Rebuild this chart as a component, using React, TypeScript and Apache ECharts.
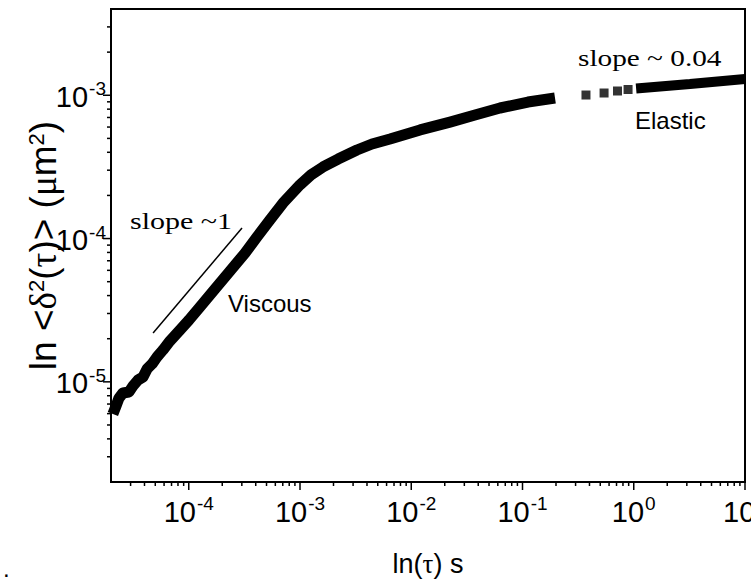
import { useEffect, useRef } from "react";
import * as echarts from "echarts";

// Lag time tau (s) and mean squared displacement (um^2), viscous branch up to ~0.2 s
const viscousTau = [
  2.08e-5, 2.22e-5, 2.36e-5, 2.56e-5, 2.9e-5, 3.15e-5, 3.5e-5, 3.88e-5, 4.22e-5, 4.68e-5,
  5.19e-5, 5.86e-5, 6.78e-5, 8.34e-5, 1.005e-4, 1.26e-4, 1.72e-4, 2.35e-4, 3.21e-4, 4.1e-4,
  5.37e-4, 7.03e-4, 1.0e-3, 1.256e-3, 1.61e-3, 2.2e-3, 3.25e-3, 4.44e-3, 6.44e-3, 1.2e-2,
  2.23e-2, 3.74e-2, 6.28e-2, 0.112, 0.196,
];
const viscousMsd = [
  5.97e-6, 6.79e-6, 7.71e-6, 8.36e-6, 8.49e-6, 9.35e-6, 1.03e-5, 1.081e-5, 1.23e-5, 1.333e-5,
  1.493e-5, 1.667e-5, 1.93e-5, 2.3e-5, 2.7e-5, 3.33e-5, 4.45e-5, 5.94e-5, 7.93e-5, 1.026e-4,
  1.349e-4, 1.77e-4, 2.37e-4, 2.78e-4, 3.16e-4, 3.59e-4, 4.15e-4, 4.57e-4, 4.95e-4, 5.73e-4,
  6.5e-4, 7.28e-4, 8.15e-4, 8.97e-4, 9.57e-4,
];

// Sparse points across the gap
const sparseTau = [0.372, 0.541, 0.714, 0.889];
const sparseMsd = [1.004e-3, 1.037e-3, 1.071e-3, 1.097e-3];

// Elastic plateau
const elasticTau = [1.05, 3.2, 10];
const elasticMsd = [1.114e-3, 1.199e-3, 1.3e-3];

// Slope ~1 guide
const guideTau = [4.78e-5, 3.01e-4];
const guideMsd = [2.19e-5, 1.185e-4];

// Axis ticks (in seconds / um^2)
const xMajorTicks = [1e-4, 1e-3, 1e-2, 1e-1, 1, 10];
const xMinorTicks = [
  3e-5, 4e-5, 5e-5, 6e-5, 7e-5, 8e-5, 9e-5,
  2e-4, 3e-4, 4e-4, 5e-4, 6e-4, 7e-4, 8e-4, 9e-4,
  2e-3, 3e-3, 4e-3, 5e-3, 6e-3, 7e-3, 8e-3, 9e-3,
  2e-2, 3e-2, 4e-2, 5e-2, 6e-2, 7e-2, 8e-2, 9e-2,
  0.2, 0.3, 0.4, 0.5, 0.6, 0.7, 0.8, 0.9,
  2, 3, 4, 5, 6, 7, 8, 9,
];
const yMajorTicks = [1e-5, 1e-4, 1e-3];
const yMinorTicks = [
  3e-6, 4e-6, 5e-6, 6e-6, 7e-6, 8e-6, 9e-6,
  2e-5, 3e-5, 4e-5, 5e-5, 6e-5, 7e-5, 8e-5, 9e-5,
  2e-4, 3e-4, 4e-4, 5e-4, 6e-4, 7e-4, 8e-4, 9e-4,
  2e-3, 3e-3,
];

const X_MIN = 2e-5;
const X_MAX = 10;
const Y_MIN = 2e-6;
const Y_MAX = 4e-3;

const SANS = "Liberation Sans, Arial, sans-serif";
const SERIF = "Liberation Serif, Times New Roman, serif";
const INK = "#000";

// Plot frame and tick lengths (px)
const W = 751;
const H = 583;
const MAJOR_LEN = 8;
const MINOR_LEN = 4;
const TICK_W = 1.5;

// Both axes are logarithmic: values are placed on decade-valued linear axes
const lg = (v: number) => Math.log10(v);
const pairs = (xs: number[], ys: number[]) => xs.map((x, i) => [lg(x), lg(ys[i])]);

const powLabel = (v: number) => `{b|10}{s|${Math.round(v)}}`;
const powRich = {
  b: { fontSize: 29, fontFamily: SANS, color: INK, lineHeight: 32, verticalAlign: "bottom" },
  s: { fontSize: 19, fontFamily: SANS, color: INK, lineHeight: 19, verticalAlign: "top", padding: [0, 0, 0, 1] },
};

const annotations = [
  {
    type: "text",
    x: 130,
    y: 209,
    scaleX: 1.25,
    style: { text: "slope ~1", fontSize: 24, fontFamily: SERIF, fill: INK },
  },
  {
    type: "text",
    x: 228,
    y: 291,
    style: { text: "Viscous", fontSize: 24, fontFamily: SANS, fill: INK },
  },
  {
    type: "text",
    x: 578,
    y: 46,
    scaleX: 1.22,
    style: { text: "slope ~ 0.04", fontSize: 24, fontFamily: SERIF, fill: INK },
  },
  {
    type: "text",
    x: 635,
    y: 108,
    style: { text: "Elastic", fontSize: 24, fontFamily: SANS, fill: INK },
  },
  {
    type: "text",
    x: 3,
    y: 556,
    style: { text: ".", fontSize: 24, fontFamily: SANS, fill: INK },
  },
];

export default function App() {
  const ref = useRef<HTMLDivElement>(null);

  useEffect(() => {
    document.body.style.margin = "0";
    if (!ref.current) return;
    const chart = echarts.init(ref.current, null, { renderer: "svg" });

    const greek = { fontFamily: SERIF, fontSize: 37, color: INK };

    chart.setOption({
      animation: false,
      backgroundColor: "#fff",
      grid: {
        left: 111,
        top: 9,
        right: 6,
        bottom: 101,
        containLabel: false,
        outerBoundsMode: "none",
        show: true,
        borderColor: INK,
        borderWidth: 2,
        backgroundColor: "transparent",
      },
      xAxis: {
        type: "value",
        min: lg(X_MIN),
        max: lg(X_MAX),
        position: "bottom",
        axisLine: { show: true, onZero: false, lineStyle: { color: INK, width: 2 } },
        axisTick: { show: false },
        axisLabel: { show: true, customValues: xMajorTicks.map(lg), formatter: powLabel, rich: powRich, margin: 12 },
        splitLine: { show: false },
        name: "ln({g|\u03c4}) s",
        nameLocation: "middle",
        nameGap: 68,
        nameMoveOverlap: false,
        nameTextStyle: { fontSize: 27, fontFamily: SANS, color: INK, rich: { g: { ...greek, fontSize: 27 } } },
      },
      yAxis: {
        type: "value",
        min: lg(Y_MIN),
        max: lg(Y_MAX),
        position: "left",
        axisLine: { show: true, onZero: false, lineStyle: { color: INK, width: 2 } },
        axisTick: { show: false },
        axisLabel: { show: true, customValues: yMajorTicks.map(lg), formatter: powLabel, rich: powRich, margin: 5 },
        splitLine: { show: false },
        name: "ln <{g|\u03b4}{sup|2}({g|\u03c4})> ({g|\u03bc}m{sup|2})",
        nameLocation: "middle",
        nameGap: 49,
        nameRotate: 90,
        nameMoveOverlap: false,
        nameTextStyle: {
          fontSize: 37,
          fontFamily: SANS,
          color: INK,
          rich: {
            g: greek,
            sup: { fontSize: 22, fontFamily: SANS, color: INK, verticalAlign: "top", lineHeight: 22 },
          },
        },
      },
      series: [
        {
          name: "viscous",
          type: "line",
          data: pairs(viscousTau, viscousMsd),
          showSymbol: false,
          symbol: "none",
          lineStyle: { color: INK, width: 11, cap: "butt", join: "round" },
          z: 3,
        },
        {
          name: "gap",
          type: "scatter",
          data: pairs(sparseTau, sparseMsd),
          symbol: "rect",
          symbolSize: 9,
          itemStyle: { color: INK },
          z: 3,
        },
        {
          name: "elastic",
          type: "line",
          data: pairs(elasticTau, elasticMsd),
          showSymbol: false,
          symbol: "none",
          lineStyle: { color: INK, width: 10, cap: "butt" },
          z: 3,
        },
        {
          name: "guide",
          type: "line",
          data: pairs(guideTau, guideMsd),
          showSymbol: false,
          symbol: "none",
          lineStyle: { color: INK, width: 1.5 },
          z: 3,
        },
      ],
    });

    // Outward tick marks, positioned through the grid's own axis scales
    const ticks: any[] = [];
    const addTicks = (values: number[], dim: "x" | "y", len: number) => {
      values.forEach((v) => {
        const p = chart.convertToPixel(
          { gridIndex: 0 },
          dim === "x" ? [lg(v), lg(Y_MIN)] : [lg(X_MIN), lg(v)]
        ) as number[] | undefined;
        if (!p) return;
        ticks.push({
          type: "line",
          silent: true,
          z: 10,
          shape:
            dim === "x"
              ? { x1: p[0], y1: p[1], x2: p[0], y2: p[1] + len }
              : { x1: p[0], y1: p[1], x2: p[0] - len, y2: p[1] },
          style: { stroke: INK, lineWidth: TICK_W },
        });
      });
    };
    addTicks(xMajorTicks, "x", MAJOR_LEN);
    addTicks(xMinorTicks, "x", MINOR_LEN);
    addTicks(yMajorTicks, "y", MAJOR_LEN);
    addTicks(yMinorTicks, "y", MINOR_LEN);

    chart.setOption({ graphic: [...annotations, ...ticks] });

    return () => chart.dispose();
  }, []);

  return (
    <div
      ref={ref}
      style={{ position: "fixed", left: 0, top: 0, width: W, height: H, background: "#fff" }}
    />
  );
}
